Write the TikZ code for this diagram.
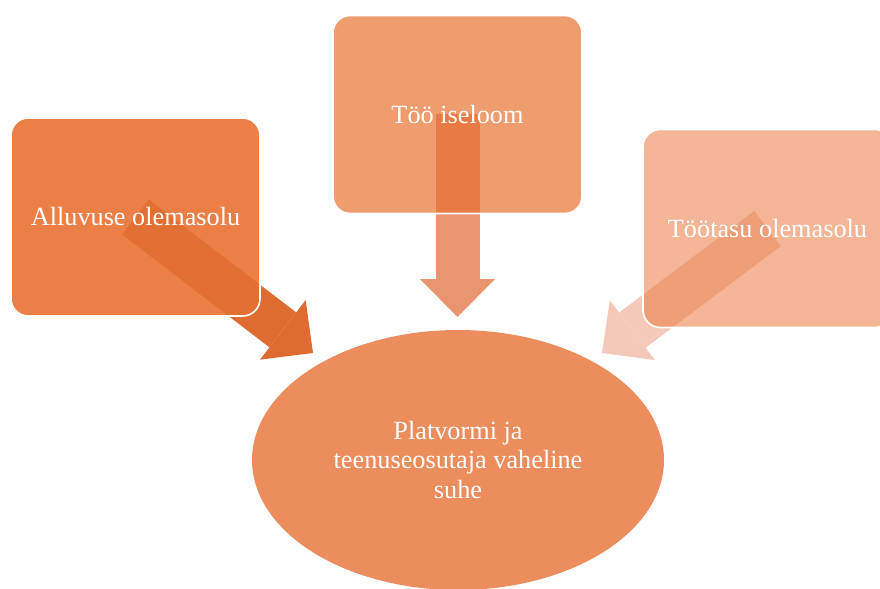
\documentclass[tikz,border=0pt]{standalone}
\usepackage{fontspec}
\setmainfont{Liberation Serif}
\usepackage{tikz}
\usetikzlibrary{shapes.geometric,arrows.meta,backgrounds}

\definecolor{kastA}{HTML}{EB7F45}
\definecolor{kastB}{HTML}{EF9C6F}
\definecolor{kastC}{HTML}{F4B696}
\definecolor{ringcol}{HTML}{EC8D5E}
\definecolor{pilA}{HTML}{DE6C30}
\definecolor{pilAin}{HTML}{E46F32}
\definecolor{pilB}{HTML}{E9956F}
\definecolor{pilBin}{HTML}{E87B45}
\definecolor{pilC}{HTML}{F4C9BA}
\definecolor{pilCin}{HTML}{EE9F78}

\begin{document}
\begin{tikzpicture}[x=0.75pt,y=-0.75pt]
				\tikzstyle{box}=[shape=rectangle,rounded corners=13pt,minimum width=186.75pt,minimum height=148.5pt,inner sep=0pt,draw=white,line width=1.2pt,text=white,font=\fontsize{19.7pt}{22pt}\selectfont]
				\tikzstyle{bigarrow}=[sharp corners,line width=33pt,-{Triangle[width=56.25pt,length=28.5pt,line width=0pt]}]
				
				\useasboundingbox (0,0) rectangle (880,588);
				
				\coordinate (tipA) at (313,353);
				\coordinate (tipB) at (457.5,317);
				\coordinate (tipC) at (602,353);
				
				\node[ellipse,fill=ringcol,minimum width=309pt,minimum height=195pt,inner sep=0pt,text=white,align=center,font=\fontsize{19.7pt}{22pt}\selectfont](suhe) at (458,460){Platvormi ja\\teenuseosutaja vaheline\\suhe};
				
				\node[box,fill=kastA,path picture={\draw[bigarrow,draw=pilAin] (path picture bounding box.center) -- (tipA);}](alluvus) at (135.5,217){Alluvuse olemasolu};
				\node[box,fill=kastB,path picture={\draw[bigarrow,draw=pilBin] (path picture bounding box.center) -- (tipB);}](iseloom) at (457.5,114.5){Töö iseloom};
				\node[box,fill=kastC,path picture={\draw[bigarrow,draw=pilCin] (path picture bounding box.center) -- (tipC);}](tootasu) at (767.5,228.5){Töötasu olemasolu};
				
				\begin{pgfonlayer}{background}
				\draw[bigarrow,draw=pilA] (alluvus.center) -- (tipA);
				\draw[bigarrow,draw=pilB] (iseloom.center) -- (tipB);
				\draw[bigarrow,draw=pilC] (tootasu.center) -- (tipC);
				\end{pgfonlayer}
\end{tikzpicture}
\end{document}
